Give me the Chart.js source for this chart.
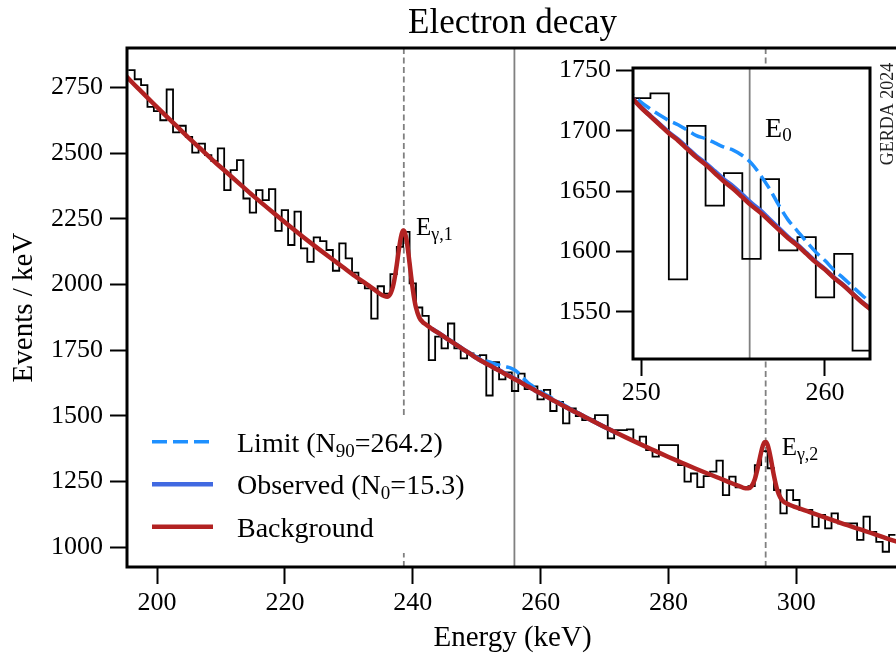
<!DOCTYPE html>
<html>
<head>
<meta charset="utf-8">
<script src="https://cdn.jsdelivr.net/npm/chart.js@4.4.1/dist/chart.umd.min.js"></script>
<style>
  html, body { margin: 0; padding: 0; background: #fff; }
  body { width: 896px; height: 657px; overflow: hidden; position: relative; }
  #main { position: absolute; left: 0; top: 0; }
  #inset { position: absolute; left: 540px; top: 40px; }
</style>
</head>
<body>
<canvas id="main" width="920" height="657"></canvas>
<canvas id="inset" width="356" height="380"></canvas>
<script>
// ---- values ----

// histogram, 1 keV bins, first bin starts at 195.5 keV
const binStart = 195.5;
const binWidth = 1;
const counts = [
  2816, 2781, 2759, 2676, 2660, 2625, 2742, 2579, 2604, 2562,
  2502, 2536, 2492, 2469, 2518, 2359, 2435, 2473, 2327, 2273,
  2359, 2321, 2363, 2204, 2283, 2150, 2277, 2137, 2086, 2179,
  2165, 2131, 2052, 2156, 2099, 2045, 2005, 1985, 1870, 1993,
  1965, 2039, 2143, 2200, 2004, 1912, 1880, 1712, 1801, 1756,
  1851, 1756, 1718, 1737, 1727, 1731, 1577, 1704, 1638, 1665,
  1594, 1660, 1601, 1612, 1562, 1598, 1518, 1553, 1471, 1528,
  1499, 1483, 1487, 1502, 1502, 1414, 1445, 1445, 1448, 1401,
  1420, 1369, 1344, 1388, 1388, 1388, 1312, 1249, 1280, 1228,
  1270, 1287, 1329, 1198, 1268, 1227, 1227, 1232, 1312, 1365,
  1300, 1217, 1128, 1217, 1179, 1141, 1141, 1077, 1122, 1071,
  1128, 1090, 1090, 1090, 1027, 1116, 1058, 1020, 982, 1046
];

// background fit (continuum + the two gamma peaks)
const curveE = [
  195, 197, 199, 201, 203, 205, 207, 209, 211, 213,
  215, 217, 219, 221, 223, 225, 227, 229, 231, 233,
  234, 235, 235.5, 236, 236.5, 236.75, 237, 237.25, 237.5, 237.75,
  238, 238.25, 238.5, 238.75, 239, 239.25, 239.5, 239.75, 240, 240.25,
  240.5, 241, 241.5, 242, 243, 244, 245, 246, 247, 248,
  249, 250, 250.5, 251, 251.5, 252, 252.5, 253, 253.5, 254,
  254.5, 255, 255.5, 256, 256.5, 257, 257.5, 258, 258.5, 259,
  259.5, 260, 260.5, 261, 261.5, 262, 262.5, 263, 264, 265,
  266, 267, 268, 270, 272, 274, 276, 278, 280, 282,
  284, 286, 288, 290, 291, 292, 292.5, 293, 293.5, 294,
  294.5, 294.75, 295, 295.25, 295.5, 295.75, 296, 296.5, 297, 297.5,
  298, 298.5, 299, 300, 302, 304, 306, 308, 310, 312,
  314, 316
];
const bgCurve = [
  2797, 2747, 2699, 2651, 2604, 2557, 2512, 2467, 2424, 2381,
  2338, 2297, 2257, 2217, 2178, 2140, 2103, 2067, 2031, 1997,
  1980, 1962, 1956, 1953, 1964, 1979, 2002, 2035, 2075, 2119,
  2160, 2191, 2205, 2198, 2172, 2131, 2081, 2029, 1982, 1942,
  1912, 1875, 1858, 1848, 1831, 1815, 1799, 1783, 1767, 1751,
  1735, 1719, 1712, 1705, 1698, 1692, 1685, 1678, 1672, 1665,
  1658, 1652, 1645, 1638, 1632, 1625, 1618, 1611, 1605, 1598,
  1591, 1585, 1578, 1572, 1565, 1558, 1552, 1545, 1532, 1519,
  1507, 1494, 1482, 1457, 1433, 1410, 1387, 1365, 1343, 1322,
  1301, 1281, 1262, 1242, 1233, 1224, 1224, 1232, 1258, 1306,
  1362, 1385, 1399, 1400, 1389, 1367, 1337, 1271, 1219, 1188,
  1173, 1166, 1160, 1151, 1134, 1117, 1100, 1083, 1067, 1051,
  1034, 1018
];

// limit and observed signal curves, where they leave the background
const limitE = [
  243, 244, 245, 246, 247, 248, 249, 250,
  250.5, 251, 251.5, 252, 252.5, 253, 253.5, 254, 254.5, 255, 255.5, 256, 256.5,
  257, 257.5, 258, 258.5, 259, 259.5, 260, 260.5, 261, 261.5, 262, 262.5,
  263, 264, 265, 266, 267, 268, 270, 272
];
const limitCurve = [
  1831, 1815.5, 1800, 1784.5, 1769, 1753.5, 1738, 1723.5,
  1718, 1713, 1708.5, 1705, 1700.5, 1696, 1693.5, 1690, 1686.5, 1684, 1679.5, 1673, 1663,
  1651.5, 1638, 1626, 1617, 1608, 1599.5, 1592.5, 1584.5, 1578, 1571, 1564, 1557.5,
  1550, 1536, 1522, 1509, 1495.5, 1483, 1457.5, 1433
];
const obsCurve = [
  1831, 1815, 1799, 1783, 1767, 1751, 1735, 1719.3,
  1712.3, 1705.5, 1698.6, 1692.8, 1685.9, 1679, 1673.2, 1666.5, 1659.7, 1653.9, 1647, 1640, 1633.8,
  1626.5, 1619.2, 1611.9, 1605.7, 1598.6, 1591.5, 1585.4, 1578.4, 1572.3, 1565.3, 1558.3, 1552.3,
  1545.3, 1532.2, 1519.2, 1507.1, 1494.1, 1482.1, 1457, 1433
];

const gammaLines = [238.6, 295.2];
const e0 = 255.9;

const xTicks = [200, 220, 240, 260, 280, 300];
const yTicks = [1000, 1250, 1500, 1750, 2000, 2250, 2500, 2750];
const insetXTicks = [250, 260];
const insetYTicks = [1550, 1600, 1650, 1700, 1750];

// ---- drawing ----
const FONT = "'Liberation Serif', 'DejaVu Serif', serif";
Chart.defaults.font.family = FONT;
Chart.defaults.color = '#000';

const RED = '#b22222', BLUE = '#4169e1', LIGHT = '#1e90ff', GREY = '#808080';

const xy = (xs, ys) => xs.map((x, i) => ({x: x, y: ys[i]}));

function histPoints() {
  const pts = counts.map((c, i) => ({x: binStart + i * binWidth, y: c}));
  pts.push({x: binStart + counts.length * binWidth, y: counts[counts.length - 1]});
  return pts;
}

// index 0 is drawn on top
function datasets() {
  return [
    {label: 'Background', data: xy(curveE, bgCurve), borderColor: RED, borderWidth: 4.5,
     cubicInterpolationMode: 'monotone', clip: 0},
    {label: 'Observed', data: xy(limitE, obsCurve), borderColor: BLUE, borderWidth: 4.5,
     cubicInterpolationMode: 'monotone', clip: 0},
    {label: 'Limit', data: xy(limitE, limitCurve), borderColor: LIGHT, borderWidth: 3.5,
     borderDash: [15, 6], cubicInterpolationMode: 'monotone', clip: 0},
    {label: 'Data', data: histPoints(), borderColor: '#000', borderWidth: 1.8, stepped: true, clip: 0}
  ];
}

function axis(min, max, ticks, pad, fit, title) {
  return {
    type: 'linear', min: min, max: max,
    afterBuildTicks: s => { s.ticks = ticks.map(v => ({value: v})); },
    afterFit: fit,
    border: {display: false},
    grid: {drawOnChartArea: false, tickLength: 17, tickWidth: 2, tickColor: '#000'},
    ticks: {font: {size: 26}, padding: pad, autoSkip: false, maxRotation: 0, callback: v => String(v)},
    title: title || {display: false}
  };
}

function richText(ctx, x, y, parts, size, subSize, subDrop) {
  ctx.textAlign = 'left';
  ctx.textBaseline = 'alphabetic';
  ctx.fillStyle = '#000';
  let cx = x;
  parts.forEach(([t, sub]) => {
    ctx.font = (sub ? subSize : size) + 'px ' + FONT;
    ctx.fillText(t, cx, sub ? y + subDrop : y);
    cx += ctx.measureText(t).width;
  });
}

const panel = {
  id: 'panel',
  beforeDraw(chart) {
    const {ctx, chartArea: a} = chart;
    ctx.save();
    ctx.fillStyle = '#fff';
    ctx.fillRect(a.left, a.top, a.width, a.height);
    ctx.restore();
  }
};

const vlines = {
  id: 'vlines',
  beforeDatasetsDraw(chart, args, o) {
    const {ctx, chartArea: a, scales: {x}} = chart;
    ctx.save();
    ctx.beginPath();
    ctx.rect(a.left, a.top, a.width, a.height);
    ctx.clip();
    o.lines.forEach(l => {
      const px = x.getPixelForValue(l.value);
      ctx.strokeStyle = GREY;
      ctx.lineWidth = 1.8;
      ctx.setLineDash(l.dash);
      ctx.beginPath();
      ctx.moveTo(px, a.top);
      ctx.lineTo(px, a.bottom);
      ctx.stroke();
    });
    ctx.restore();
  }
};

const notes = {
  id: 'notes',
  afterDatasetsDraw(chart, args, o) {
    const {ctx, chartArea: a, scales: {x, y}} = chart;
    ctx.save();
    (o.labels || []).forEach(l => {
      richText(ctx, x.getPixelForValue(l.at[0]), y.getPixelForValue(l.at[1]), l.parts, l.size, l.subSize, l.subDrop);
    });
    const lg = o.legend;
    if (lg) {
      ctx.fillStyle = '#fff';
      ctx.fillRect(a.left + lg.boxLeft, a.bottom - lg.boxBottom - lg.boxHeight, lg.boxWidth, lg.boxHeight);
      lg.items.forEach((item, i) => {
        const ds = chart.data.datasets[item.dataset];
        const ry = a.bottom - lg.bottom - (lg.items.length - 1 - i) * lg.rowGap;
        ctx.strokeStyle = ds.borderColor;
        ctx.lineWidth = ds.borderWidth;
        ctx.setLineDash(ds.borderDash || []);
        ctx.beginPath();
        ctx.moveTo(a.left + lg.left, ry);
        ctx.lineTo(a.left + lg.left + lg.lineLen, ry);
        ctx.stroke();
        ctx.setLineDash([]);
        richText(ctx, a.left + lg.textX, ry + lg.baseline, item.parts, lg.size, lg.subSize, lg.subDrop);
      });
    }
    if (o.stamp) {
      ctx.translate(a.right + o.stamp.dx, a.top + o.stamp.dy);
      ctx.rotate(-Math.PI / 2);
      ctx.font = o.stamp.size + 'px ' + FONT;
      ctx.fillStyle = '#222';
      ctx.textAlign = 'center';
      ctx.textBaseline = 'middle';
      ctx.fillText(o.stamp.text, 0, 0);
    }
    ctx.restore();
  }
};

const frame = {
  id: 'frame',
  afterDraw(chart) {
    const {ctx, chartArea: a} = chart;
    ctx.save();
    ctx.strokeStyle = '#000';
    ctx.lineWidth = 3;
    ctx.strokeRect(a.left, a.top, a.width, a.height);
    ctx.restore();
  }
};

const base = {
  responsive: false,
  animation: false,
  devicePixelRatio: 1,
  events: [],
  elements: {point: {radius: 0}, line: {fill: false, borderCapStyle: 'butt'}}
};

new Chart(document.getElementById('main'), {
  type: 'line',
  data: {datasets: datasets()},
  plugins: [vlines, notes, frame],
  options: Object.assign({}, base, {
    layout: {padding: {left: 0, right: 22, top: 0, bottom: 0}},
    scales: {
      x: axis(195.3, 315.9, xTicks, 4, s => { s.height = 90; },
        {display: true, text: 'Energy (keV)', font: {size: 29}, padding: {top: 0, bottom: 1}}),
      y: axis(924, 2900, yTicks, 7, s => { s.width = 127; },
        {display: true, text: 'Events / keV', font: {size: 29}, padding: {top: 7, bottom: 0}})
    },
    plugins: {
      legend: {display: false},
      tooltip: {enabled: false},
      title: {display: true, text: 'Electron decay', fullSize: false,
        font: {size: 35, weight: 'normal'}, padding: {top: 3, bottom: 3}},
      vlines: {lines: [
        {value: gammaLines[0], dash: [6, 3.5]},
        {value: gammaLines[1], dash: [6, 3.5]},
        {value: e0, dash: []}
      ]},
      notes: {
        labels: [
          {at: [240.5, 2188], parts: [['E', 0], ['γ,1', 1]], size: 25, subSize: 18, subDrop: 5},
          {at: [297.7, 1350], parts: [['E', 0], ['γ,2', 1]], size: 25, subSize: 18, subDrop: 5}
        ],
        legend: {
          boxLeft: 12, boxWidth: 346, boxBottom: 14, boxHeight: 135,
          left: 25, lineLen: 61, textX: 110, bottom: 40.3, rowGap: 42.5,
          baseline: 10, size: 28, subSize: 19, subDrop: 5,
          items: [
            {dataset: 2, parts: [['Limit (N', 0], ['90', 1], ['=264.2)', 0]]},
            {dataset: 1, parts: [['Observed (N', 0], ['0', 1], ['=15.3)', 0]]},
            {dataset: 0, parts: [['Background', 0]]}
          ]
        }
      }
    }
  })
});

new Chart(document.getElementById('inset'), {
  type: 'line',
  data: {datasets: datasets()},
  plugins: [panel, vlines, notes, frame],
  options: Object.assign({}, base, {
    layout: {padding: {left: 0, right: 26, top: 28, bottom: 0}},
    scales: {
      x: axis(249.55, 262.45, insetXTicks, 2, s => { s.height = 61; }),
      y: axis(1511, 1752, insetYTicks, 5, s => { s.width = 93; })
    },
    plugins: {
      legend: {display: false},
      tooltip: {enabled: false},
      vlines: {lines: [{value: e0, dash: []}]},
      notes: {
        labels: [
          {at: [256.74, 1695], parts: [['E', 0], ['0', 1]], size: 28, subSize: 19, subDrop: 4}
        ],
        stamp: {text: 'GERDA 2024', size: 18, dx: 18, dy: 46}
      }
    }
  })
});
</script>
</body>
</html>
